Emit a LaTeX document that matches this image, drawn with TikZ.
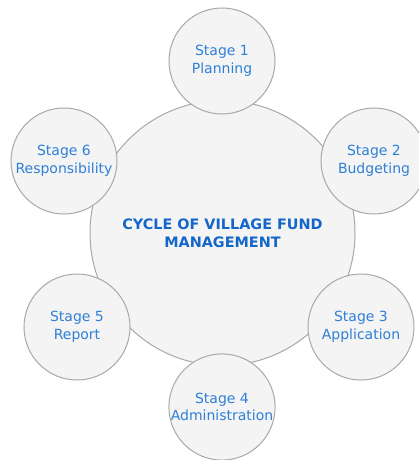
\documentclass[tikz,border=0pt]{standalone}
\usepackage{fontspec}
\setmainfont{DejaVu Sans}
\definecolor{stagefill}{HTML}{F4F4F4}
\definecolor{stageline}{HTML}{A8A8A8}
\definecolor{stagetext}{HTML}{2F7FD6}
\definecolor{cycletext}{HTML}{1467C8}
\tikzset{
	stage/.style={circle, draw=stageline, fill=stagefill, line width=1pt,
		minimum size=106pt, inner sep=0pt, align=center, text=stagetext,
		font=\fontsize{14}{17.5}\selectfont},
	hub/.style={stage, minimum size=265pt, text=cycletext,
		font=\bfseries\fontsize{14.4}{18}\selectfont}
}
\begin{document}
\begin{tikzpicture}[x=1pt,y=-1pt]
		\useasboundingbox (0,0) rectangle (419,460);

		% centre of the cycle
		\node	[hub]	(cycle)	at (222.5,233)	{CYCLE OF VILLAGE FUND\\MANAGEMENT};

		% stages, clockwise from the top
		\node	[stage]	(plan)	at (222,61)		{Stage 1\\Planning};
		\node	[stage]	(budget)	at (374,161)	{Stage 2\\Budgeting};
		\node	[stage]	(apply)	at (361,327)	{Stage 3\\Application};
		\node	[stage]	(admin)	at (222,407)	{Stage 4\\Administration};
		\node	[stage]	(report)	at (77,327)		{Stage 5\\Report};
		\node	[stage]	(resp)	at (64,161)		{Stage 6\\Responsibility};
	\end{tikzpicture}
\end{document}
